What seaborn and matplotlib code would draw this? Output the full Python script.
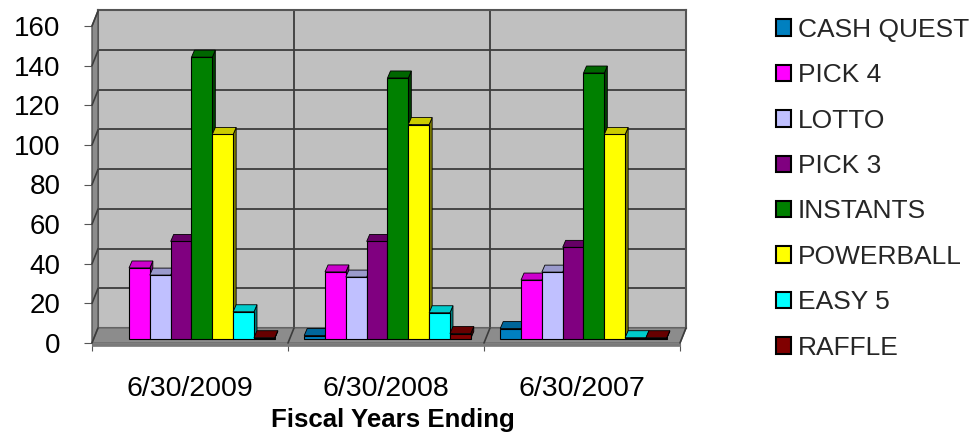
import matplotlib
matplotlib.use("Agg")
import matplotlib.pyplot as plt
from matplotlib.patches import Polygon
from matplotlib.lines import Line2D
from matplotlib.transforms import IdentityTransform
from matplotlib.colors import to_rgb
import pandas as pd
import seaborn as sns

years = ["6/30/2009", "6/30/2008", "6/30/2007"]
games = ["CASH QUEST", "PICK 4", "LOTTO", "PICK 3", "INSTANTS", "POWERBALL", "EASY 5", "RAFFLE"]
cash_quest = [0, 1.5, 5]
pick_4 = [35.6, 33.6, 29.5]
lotto = [32, 31, 33.5]
pick_3 = [49, 49, 46]
instants = [142, 131.5, 134]
powerball = [103, 108, 103]
easy_5 = [13.5, 13, 0.4]
raffle = [0.4, 2.5, 0.4]
colors = ["#0080C0", "#FF00FF", "#C0C0FF", "#800080", "#008000", "#FFFF00", "#00FFFF", "#800000"]
yticks = [0, 20, 40, 60, 80, 100, 120, 140, 160]

series = [cash_quest, pick_4, lotto, pick_3, instants, powerball, easy_5, raffle]
df = pd.DataFrame(
    [(y, g, s[i]) for g, s in zip(games, series) for i, y in enumerate(years)],
    columns=["year", "game", "sales"],
)

sns.set_theme(style="white")
plt.rcParams["font.family"] = ["Liberation Sans", "DejaVu Sans"]

W, H = 976, 433
fig = plt.figure(figsize=(W / 100, H / 100), dpi=100)


def box(x0, x1, y_bottom, y_top):
    return [x0 / W, 1 - y_bottom / H, (x1 - x0) / W, (y_bottom - y_top) / H]


ax_back = fig.add_axes(box(98, 686, 328, 10), zorder=1)
ax_front = fig.add_axes(box(92, 680, 343, 26), zorder=2)
ax_bar = fig.add_axes(box(93.5, 681.5, 338.5, 21.5), zorder=3)

GRID = "#3c3c3c"
WALL = "#C0C0C0"

for ax in (ax_back, ax_front, ax_bar):
    ax.set_xlim(-0.5, 2.5)
    ax.set_ylim(0, 160)

# back wall
ax_back.set_facecolor(WALL)
ax_back.set_xticks([0.5, 1.5])
ax_back.set_yticks(yticks)
ax_back.tick_params(length=0, labelleft=False, labelbottom=False)
ax_back.grid(True, color=GRID, lw=1.3)
for s in ax_back.spines.values():
    s.set_color("#555555")
    s.set_linewidth(1.5)

# front plane: axis ticks and labels, side wall and floor
ax_front.patch.set_alpha(0)
for s in ax_front.spines.values():
    s.set_visible(False)
ax_front.set_yticks(yticks)
ax_front.set_xticks([-0.5, 0.5, 1.5, 2.5])
ax_front.set_xticklabels([])
ax_front.set_xticks([0, 1, 2], minor=True)
ax_front.set_xticklabels(years, minor=True, fontsize=20.5, color="black")
ax_front.tick_params(axis="x", which="minor", length=0, pad=24)
ax_front.tick_params(axis="x", which="major", length=6, width=0.8, color="#555555", bottom=True)
ax_front.tick_params(axis="y", length=6, width=0.8, color="#555555", labelsize=20,
                     labelcolor="black", pad=16.5, left=True)
ax_front.set_xlabel("Fiscal Years Ending", fontsize=18.6, fontweight="bold", color="black", va="center")
ax_front.xaxis.set_label_coords((393 - 92) / 588, (343 - 420) / 317)

DX, DY = 6, 15


def pts(ax, xy, dx=0, dy=0):
    out = []
    for x, y in xy:
        px, py = ax.transData.transform((x, y))
        out.append((px + dx, py + dy))
    return out


def face(ax, corners, color, z, lw=0.8, ec="black"):
    ax.add_patch(Polygon(corners, closed=True, facecolor=color, edgecolor=ec, linewidth=lw,
                         transform=IdentityTransform(), clip_on=False, zorder=z))


p00, p01 = pts(ax_front, [(-0.5, 0), (-0.5, 160)])
p10 = pts(ax_front, [(2.5, 0)])[0]
face(ax_front, [p00, p01, (p01[0] + DX, p01[1] + DY), (p00[0] + DX, p00[1] + DY)], "#8c8c8c", 1, 1.0, "#555555")
face(ax_front, [p00, p10, (p10[0] + DX, p10[1] + DY), (p00[0] + DX, p00[1] + DY)], "#8c8c8c", 1.2, 1.0, "#6a6a6a")
face(ax_front, [p00, p10, (p10[0], p10[1] - 2.5), (p00[0], p00[1] - 2.5)], "#7a7a7a", 1.3, 0.5, "#7a7a7a")
for v in yticks:
    a = pts(ax_front, [(-0.5, v)])[0]
    ax_front.add_line(Line2D([a[0], a[0] + DX], [a[1], a[1] + DY], color=GRID, lw=1.2,
                             transform=IdentityTransform(), clip_on=False, zorder=1.5))
for v in [0.5, 1.5, 2.5]:
    a = pts(ax_front, [(v, 0)])[0]
    ax_front.add_line(Line2D([a[0], a[0] + DX], [a[1], a[1] + DY], color=GRID, lw=1.2,
                             transform=IdentityTransform(), clip_on=False, zorder=1.5))

# bars
ax_bar.patch.set_alpha(0)
sns.barplot(data=df, x="year", y="sales", hue="game", order=years, hue_order=games,
            palette=colors, saturation=1, width=0.85, gap=0, dodge=True, edgecolor="black",
            linewidth=0.8, errorbar=None, ax=ax_bar, legend=True)
ax_bar.set_xlim(-0.5, 2.5)
ax_bar.set_ylim(0, 160)
ax_bar.set_axis_off()

BX, BY = 3, 7
patches = sorted([p for p in ax_bar.patches], key=lambda p: p.get_x())
for i, p in enumerate(patches):
    x0, x1 = p.get_x(), p.get_x() + p.get_width()
    h = p.get_height()
    if h <= 0:
        p.set_visible(False)
        continue
    z = 10 + 3 * i
    p.set_zorder(z + 2)
    p.set_clip_on(False)
    base = to_rgb(p.get_facecolor()[:3])
    a, b, c = pts(ax_bar, [(x0, h), (x1, h), (x1, 0)])
    face(ax_bar, [b, (b[0] + BX, b[1] + BY), (c[0] + BX, c[1] + BY), c],
         tuple(v * 0.5 for v in base), z, 0.6)
    face(ax_bar, [a, b, (b[0] + BX, b[1] + BY), (a[0] + BX, a[1] + BY)],
         tuple(v * 0.8 for v in base), z + 1, 0.6)

# legend
sns.move_legend(ax_bar, loc="upper left", bbox_to_anchor=(776 / W, 1 - 18 / H),
                bbox_transform=fig.transFigure, frameon=False, title=None, ncols=1,
                fontsize=19, handlelength=0.58, handleheight=0.58, handletextpad=0.25,
                labelspacing=0.81, borderpad=0, borderaxespad=0)
for h in ax_bar.get_legend().legend_handles:
    h.set_edgecolor("black")
    h.set_linewidth(1.5)

fig.savefig("out.png", dpi=100)
